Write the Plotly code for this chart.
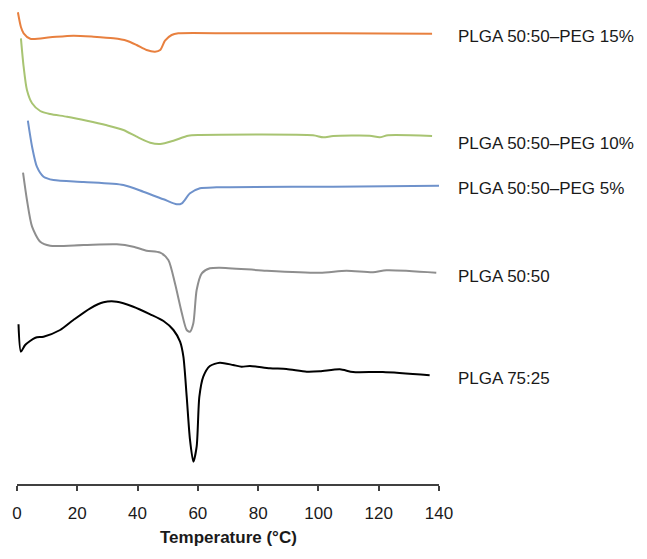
import plotly.graph_objects as go

# Temperature (°C) and relative heat flow (arbitrary units, offset traces)
peg15_T = [0.3, 1.3, 2.2, 4.4, 11, 18.7, 25.4, 32, 36.4, 39.7, 43, 45.8, 47.5, 49.1, 51.3, 53.5, 71.7, 104.9, 137.7]
peg15_H = [471.7, 457, 450.7, 445.3, 446.7, 448.3, 447.3, 445.7, 443.3, 439, 434, 432.3, 434, 443.3, 449, 450.7, 450.7, 450.7, 450.3]

peg10_T = [1.3, 2.2, 3.3, 5, 7.7, 11, 16.6, 23.2, 29.8, 35.3, 39.7, 44.2, 47.5, 51.9, 56.8, 60.7, 98.2, 101.6, 104.9, 117, 120.3, 123.1, 137.7]
peg10_H = [445.7, 417.3, 394, 380.7, 373, 370, 367.3, 363.3, 358.7, 354, 347.3, 341.3, 340, 343.3, 348.3, 349, 348.7, 346.7, 348, 348.3, 346.7, 348.7, 348]

peg5_T = [3.6, 5, 6.6, 8.8, 12.1, 22.1, 35.3, 41.9, 48.6, 53, 54.7, 57.4, 60.7, 66.2, 104.9, 141.3]
peg5_H = [363.3, 337.3, 317.3, 307.3, 304, 302, 299, 292.3, 284.7, 279.7, 280.7, 290.7, 295.7, 296.7, 297.3, 298.3]

p5050_T = [2, 3.3, 5, 7.7, 11, 22.1, 33.1, 38.6, 43, 47.5, 50.2, 52.4, 54.7, 56.3, 57.4, 58.5, 59.6, 61.3, 64, 67.3, 82.8, 100.5, 109.3, 118.1, 122.6, 139.1]
p5050_H = [311.3, 284, 257.3, 242.3, 238.3, 239, 239.7, 237.3, 233.3, 231.3, 224, 200.7, 170.7, 154, 152.3, 160.7, 194, 210.7, 215.7, 216.3, 213.3, 211.3, 213.3, 211.7, 213.7, 211.3]

p7525_T = [0.5, 1.3, 2.7, 6.1, 8.8, 14.3, 18.7, 24.3, 28.7, 33.1, 38.6, 44.2, 48.6, 51.9, 54.1, 55.2, 56.3, 57.4, 58.5, 59.6, 60.5, 61.8, 64, 67.3, 71.7, 74.5, 77.3, 83.9, 89.4, 96.1, 100.5, 107.1, 111.5, 121.4, 136.9]
p7525_H = [159.7, 132.3, 139, 146.3, 147.3, 154, 164, 175.7, 181.7, 182.3, 177.3, 169.7, 163, 154, 142.3, 127.3, 87.3, 44, 22.3, 37.3, 87.3, 107.3, 118, 121.3, 119, 117.3, 118, 115.7, 115, 112.3, 112.7, 114.7, 112, 112, 108.7]

series_names = ["PLGA 50:50\u2013PEG 15%", "PLGA 50:50\u2013PEG 10%", "PLGA 50:50\u2013PEG 5%", "PLGA 50:50", "PLGA 75:25"]
label_y = [447.3, 340.7, 295.7, 207.3, 105.7]

x_ticks = [0, 20, 40, 60, 80, 100, 120, 140]

series = [
    (peg15_T, peg15_H, "#E8803F"),
    (peg10_T, peg10_H, "#A8C472"),
    (peg5_T, peg5_H, "#6F92CB"),
    (p5050_T, p5050_H, "#8E8E8E"),
    (p7525_T, p7525_H, "#000000"),
]

FONT = "Liberation Sans, Arial, sans-serif"

fig = go.Figure()
for (t, h, c), name in zip(series, series_names):
    fig.add_trace(go.Scatter(x=t, y=h, mode="lines", name=name,
                             line=dict(color=c, width=2, shape="spline", smoothing=0.7),
                             showlegend=False, hoverinfo="skip"))

for name, y in zip(series_names, label_y):
    fig.add_annotation(x=1.0395, y=y, xref="paper", yref="y", text=name, showarrow=False,
                       xanchor="left", yanchor="middle",
                       font=dict(family=FONT, size=17, color="#1a1a1a"))

fig.add_annotation(x=0.5, y=-(537 - 484) / 476, xref="paper", yref="paper",
                   text="<b>Temperature (°C)</b>", showarrow=False,
                   xanchor="center", yanchor="middle",
                   font=dict(family=FONT, size=17, color="#1a1a1a"))

fig.update_layout(
    width=639, height=551,
    margin=dict(l=8.7, r=207.7, t=0, b=75, pad=0),
    paper_bgcolor="white", plot_bgcolor="white",
    xaxis=dict(range=[0, 140], tickvals=x_ticks, showgrid=False, zeroline=False,
               showline=True, linecolor="#404040", linewidth=2,
               ticks="outside", ticklen=5, tickwidth=1.5, tickcolor="#404040",
               ticklabelstandoff=8,
               tickfont=dict(family=FONT, size=17, color="#1a1a1a")),
    yaxis=dict(range=[0, 476], visible=False, showgrid=False, zeroline=False),
)

fig.write_html("out.html")
